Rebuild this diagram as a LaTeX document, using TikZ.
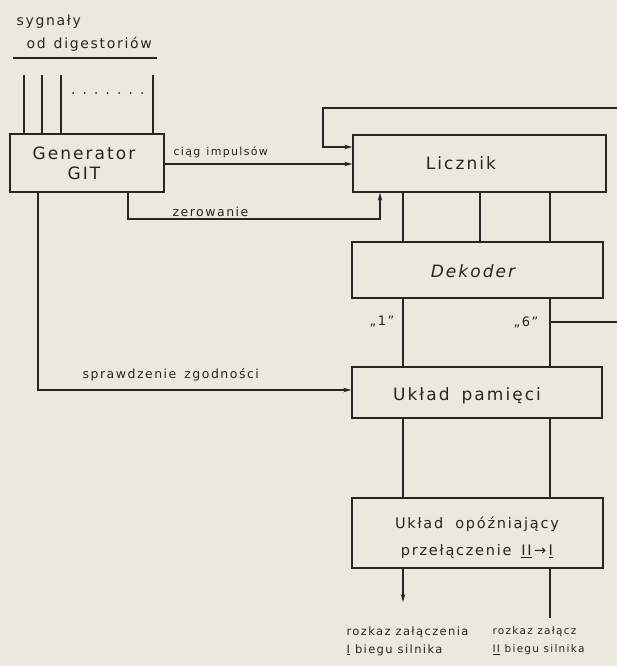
\documentclass[tikz,border=0pt]{standalone}
\usepackage{fontspec}
\setmainfont{DejaVu Sans}[LetterSpace=12]
\usetikzlibrary{arrows.meta}
\definecolor{paper}{RGB}{236,232,221}
\definecolor{ink}{RGB}{38,38,38}
\begin{document}
\begin{tikzpicture}[x=1pt,y=-1pt, color=ink, line width=1.2pt,
  box/.style={draw=ink, line width=1.3pt, rectangle, inner sep=0pt, text=ink},
  boxtext/.style={text=ink, font=\fontsize{17}{21}\selectfont},
  lbl/.style={text=ink, inner sep=0pt, font=\fontsize{11}{13}\selectfont},
  arr/.style={-{Stealth[length=8pt,width=4.5pt]}}
]
\fill[paper] (0,0) rectangle (617,666);
\useasboundingbox (0,0) rectangle (617,666);

% boxes
\node[box, minimum width=154pt, minimum height=58pt] (gen) at (87,163) {};
\node[boxtext, align=center] (gentxt) at (84,163) {Generator\\[-1pt]GIT};
\node[box, minimum width=253pt, minimum height=57pt] (lic) at (479.5,163.5) {};
\node[boxtext] (lictxt) at (461,163) {Licznik};
\node[box, minimum width=251pt, minimum height=56pt] (dek) at (477.5,270) {};
\node[boxtext, font=\fontsize{17}{21}\selectfont\slshape] (dektxt) at (473,271) {Dekoder};
\node[box, minimum width=250pt, minimum height=51pt] (pam) at (477,392.5) {};
\node[boxtext] (pamtxt) at (467,396) {Układ\hspace{12pt}pamięci};
\node[box, minimum width=251pt, minimum height=70pt] (opo) at (477.5,533) {};
\node[text=ink, font=\fontsize{14.5}{27}\selectfont, align=center] (opotxt) at (477,538)
  {Układ\hspace{12pt}opóźniający\\przełączenie\hspace{10pt}\underline{II}\,→\,\underline{I}};

% columns and free ends
\coordinate (xa) at (38,0);
\coordinate (xz) at (128,0);
\coordinate (zc) at (380,219);
\coordinate (fbc) at (323,147);
\coordinate (fbr) at (617,108);
\coordinate (ci) at (0,164);
\coordinate (sy) at (0,390);
\coordinate (x1) at (403,0);
\coordinate (x2) at (480,0);
\coordinate (x3) at (550,0);
\coordinate (b6) at (617,322);
\coordinate (o1) at (403,602);
\coordinate (o2) at (550,618);
\coordinate (in1) at (24,75);
\coordinate (in2) at (42,75);
\coordinate (in3) at (61,75);
\coordinate (in4) at (153,75);

% top labels and inputs
\node[lbl, anchor=west, font=\fontsize{14}{16}\selectfont] (syg) at (16,22) {sygnały};
\node[lbl, anchor=west, font=\fontsize{14}{16}\selectfont] (odd) at (26,44) {od\hspace{8pt}digestoriów};
\draw (13,58) -- (157,58);
\draw (in1) -- (in1 |- gen.north);
\draw (in2) -- (in2 |- gen.north);
\draw (in3) -- (in3 |- gen.north);
\draw (in4) -- (in4 |- gen.north);
\draw[line width=2pt, line cap=round, dash pattern=on 0pt off 11.5pt] (73,93) -- (146,93);

% Generator -> Licznik
\draw[arr] (gen.east |- ci) -- (lic.west |- ci);
\node[lbl, anchor=west] (ciag) at (173,152) {ciąg\hspace{6pt}impulsów};

% feedback from the right into Licznik
\draw[arr] (fbr) -| (fbc) -- (fbc -| lic.west);

% zerowanie
\draw[arr] (gen.south -| xz) |- (zc) -- (zc |- lic.south);
\node[lbl, anchor=west, font=\fontsize{12.5}{14}\selectfont] (zer) at (172,212) {zerowanie};

% sprawdzenie zgodnosci
\draw[arr] (gen.south -| xa) |- (pam.west |- sy);
\node[lbl, anchor=west, font=\fontsize{12.5}{14}\selectfont] (spr) at (82,375) {sprawdzenie\hspace{8pt}zgodności};

% Licznik -> Dekoder
\draw (lic.south -| x1) -- (dek.north -| x1);
\draw (lic.south -| x2) -- (dek.north -| x2);
\draw (lic.south -| x3) -- (dek.north -| x3);

% Dekoder -> Uklad pamieci
\draw (dek.south -| x1) -- (pam.north -| x1);
\draw (dek.south -| x3) -- (pam.north -| x3);
\draw (b6 -| x3) -- (b6);
\node[lbl, font=\fontsize{13}{15}\selectfont] (l1) at (382,322) {„1”};
\node[lbl, font=\fontsize{13}{15}\selectfont] (l6) at (526,322) {„6”};

% Uklad pamieci -> Uklad opozniajacy
\draw (pam.south -| x1) -- (opo.north -| x1);
\draw (pam.south -| x3) -- (opo.north -| x3);

% outputs
\draw[arr] (opo.south -| o1) -- (o1);
\draw (opo.south -| o2) -- (o2);
\node[lbl, anchor=west, align=left, font=\fontsize{11.5}{18}\selectfont] (out1) at (346,641)
  {rozkaz załączenia\\\underline{I} biegu silnika};
\node[lbl, anchor=west, align=left, font=\fontsize{10.5}{18}\selectfont] (out2) at (492,641)
  {rozkaz załącz\\\underline{II} biegu silnika};
\end{tikzpicture}
\end{document}
